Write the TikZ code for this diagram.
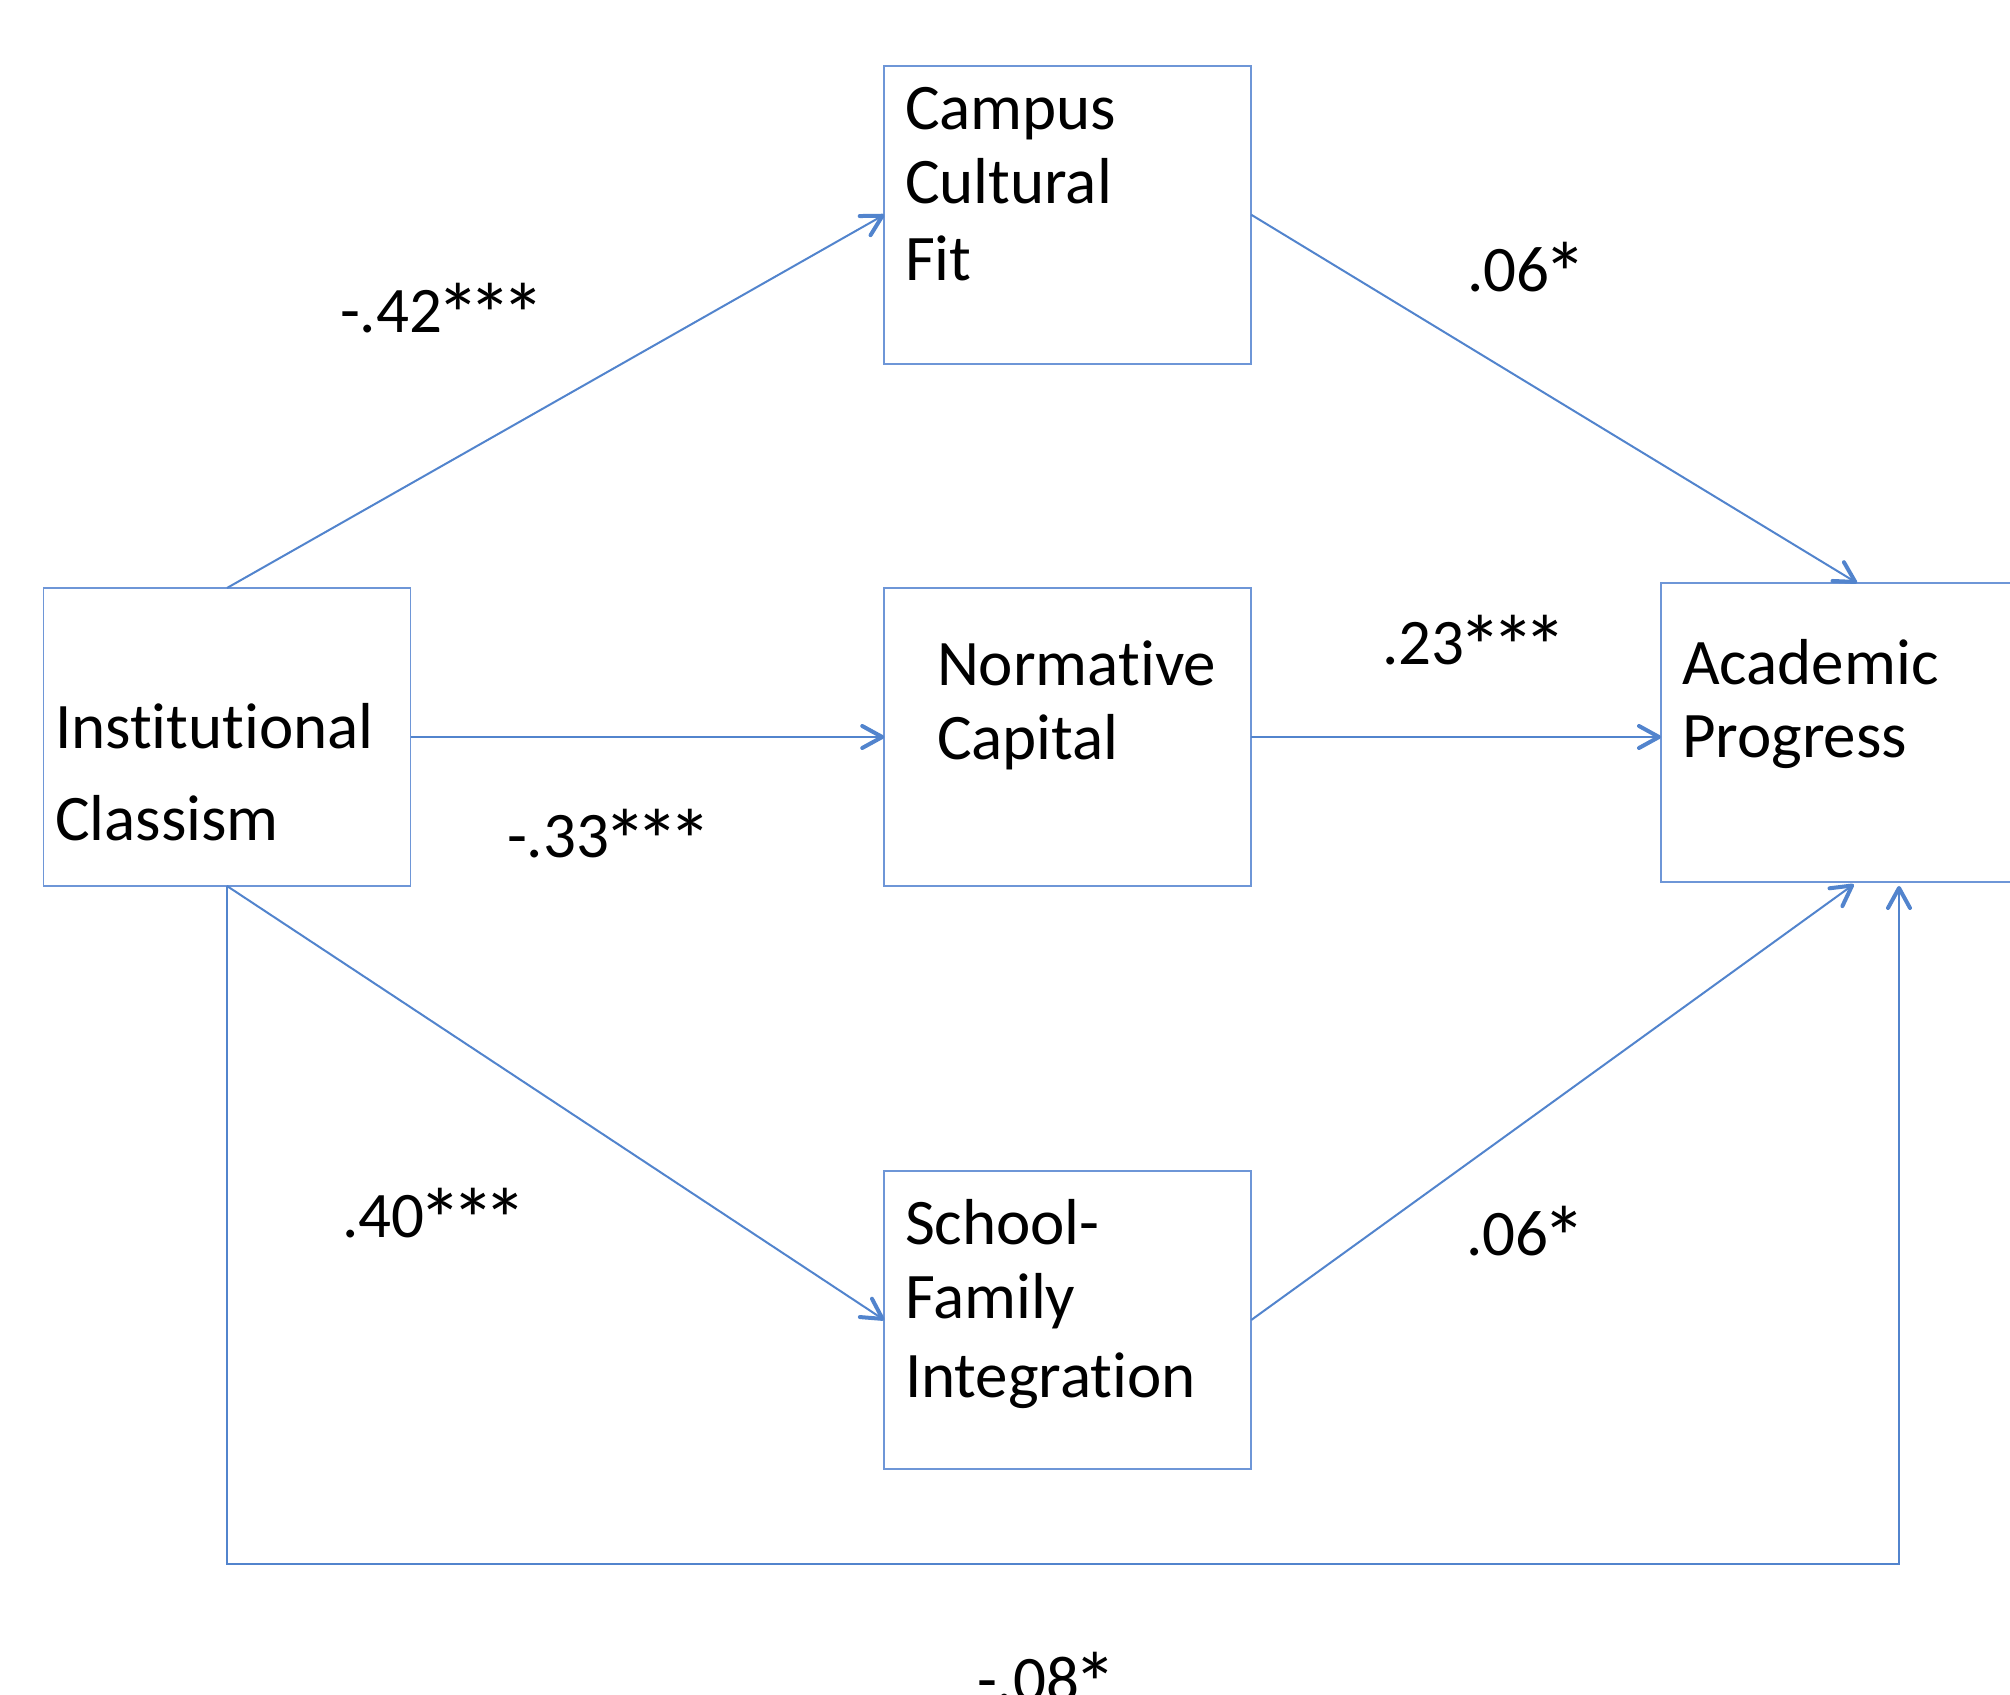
\documentclass[tikz,border=0pt]{standalone}
\usepackage{graphicx}
\usepackage{fontspec}
\setmainfont[Ligatures=NoCommon,RawFeature={-liga;-dlig;-clig}]{Carlito}
\usetikzlibrary{arrows.meta}
\definecolor{lnblue}{RGB}{82,132,205}
\definecolor{bxblue}{RGB}{110,150,215}
\newlength\myastw
\newcommand\bigast{\settowidth\myastw{*}\makebox[\myastw]{\raisebox{-0.2em}{\scalebox{1.35}{*}}}}
\begin{document}
\begin{tikzpicture}[x=0.5pt,y=-0.5pt,
  box/.style={draw=bxblue,line width=0.8pt,rectangle,inner sep=0pt,outer sep=0pt,minimum width=183.5pt,minimum height=149pt},
  txt/.style={anchor=base west,inner sep=0pt,outer sep=0pt,font=\fontsize{32.5}{37}\selectfont},
  conn/.style={draw=lnblue,line width=1pt,-{Straight Barb[length=10pt,width=11pt,line width=2pt,round]}}]
\path[use as bounding box] (0,0) rectangle (2010,1695);
\clip (0,0) rectangle (2010,1695);
% boxes
\node[box] (IC) at (227,737) {};
\node[box] (CCF) at (1067.75,214.75) {};
\node[box] (NC) at (1067.75,737) {};
\node[box] (SFI) at (1067.75,1320) {};
\node[box,minimum width=196pt,minimum height=149.5pt] (AP) at (1857,732.5) {};
% box texts
\node[txt] (t1) at (55,749) {Inst\kern0pt itut\kern0pt ional};
\node[txt] (t2) at (55,841) {Classism};
\node[txt] (t3) at (905,130) {Campus};
\node[txt] (t4) at (905,204) {Cultural};
\node[txt] (t5) at (905,281) {Fit};
\node[txt] (t6) at (937,686) {Normat\kern0pt ive};
\node[txt] (t7) at (937,760) {Capital};
\node[txt] (t8) at (905,1244) {School-};
\node[txt] (t9) at (905,1318) {Family};
\node[txt] (t10) at (905,1397) {Integrat\kern0pt ion};
\node[txt] (t11) at (1682,685) {Academic};
\node[txt] (t12) at (1682,758) {Progress};
% connectors
\coordinate (c1) at (1899,1564);
\draw[conn] (IC.north) -- (CCF.west);
\draw[conn] (IC.east) -- (NC.west);
\draw[conn] (IC.south) -- (SFI.west);
\draw[conn] (CCF.east) -- (AP.north);
\draw[conn] (NC.east) -- (NC.east -| AP.west);
\draw[conn,shorten >=2pt] (SFI.east) -- (AP.south);
\draw[conn,shorten >=2pt] (IC.south) |- (c1) -- (c1 |- AP.south);
% labels
\node[txt] (l1) at (340,333) {-.42\bigast\bigast\bigast};
\node[txt] (l2) at (507,858) {-.33\bigast\bigast\bigast};
\node[txt] (l3) at (342,1237) {.40\bigast\bigast\bigast};
\node[txt] (l4) at (1467,292) {.06\bigast};
\node[txt] (l5) at (1382,665) {.23\bigast\bigast\bigast};
\node[txt] (l6) at (1466,1255) {.06\bigast};
\node[txt] (l7) at (977,1701) {-.08\bigast};
\end{tikzpicture}
\end{document}
